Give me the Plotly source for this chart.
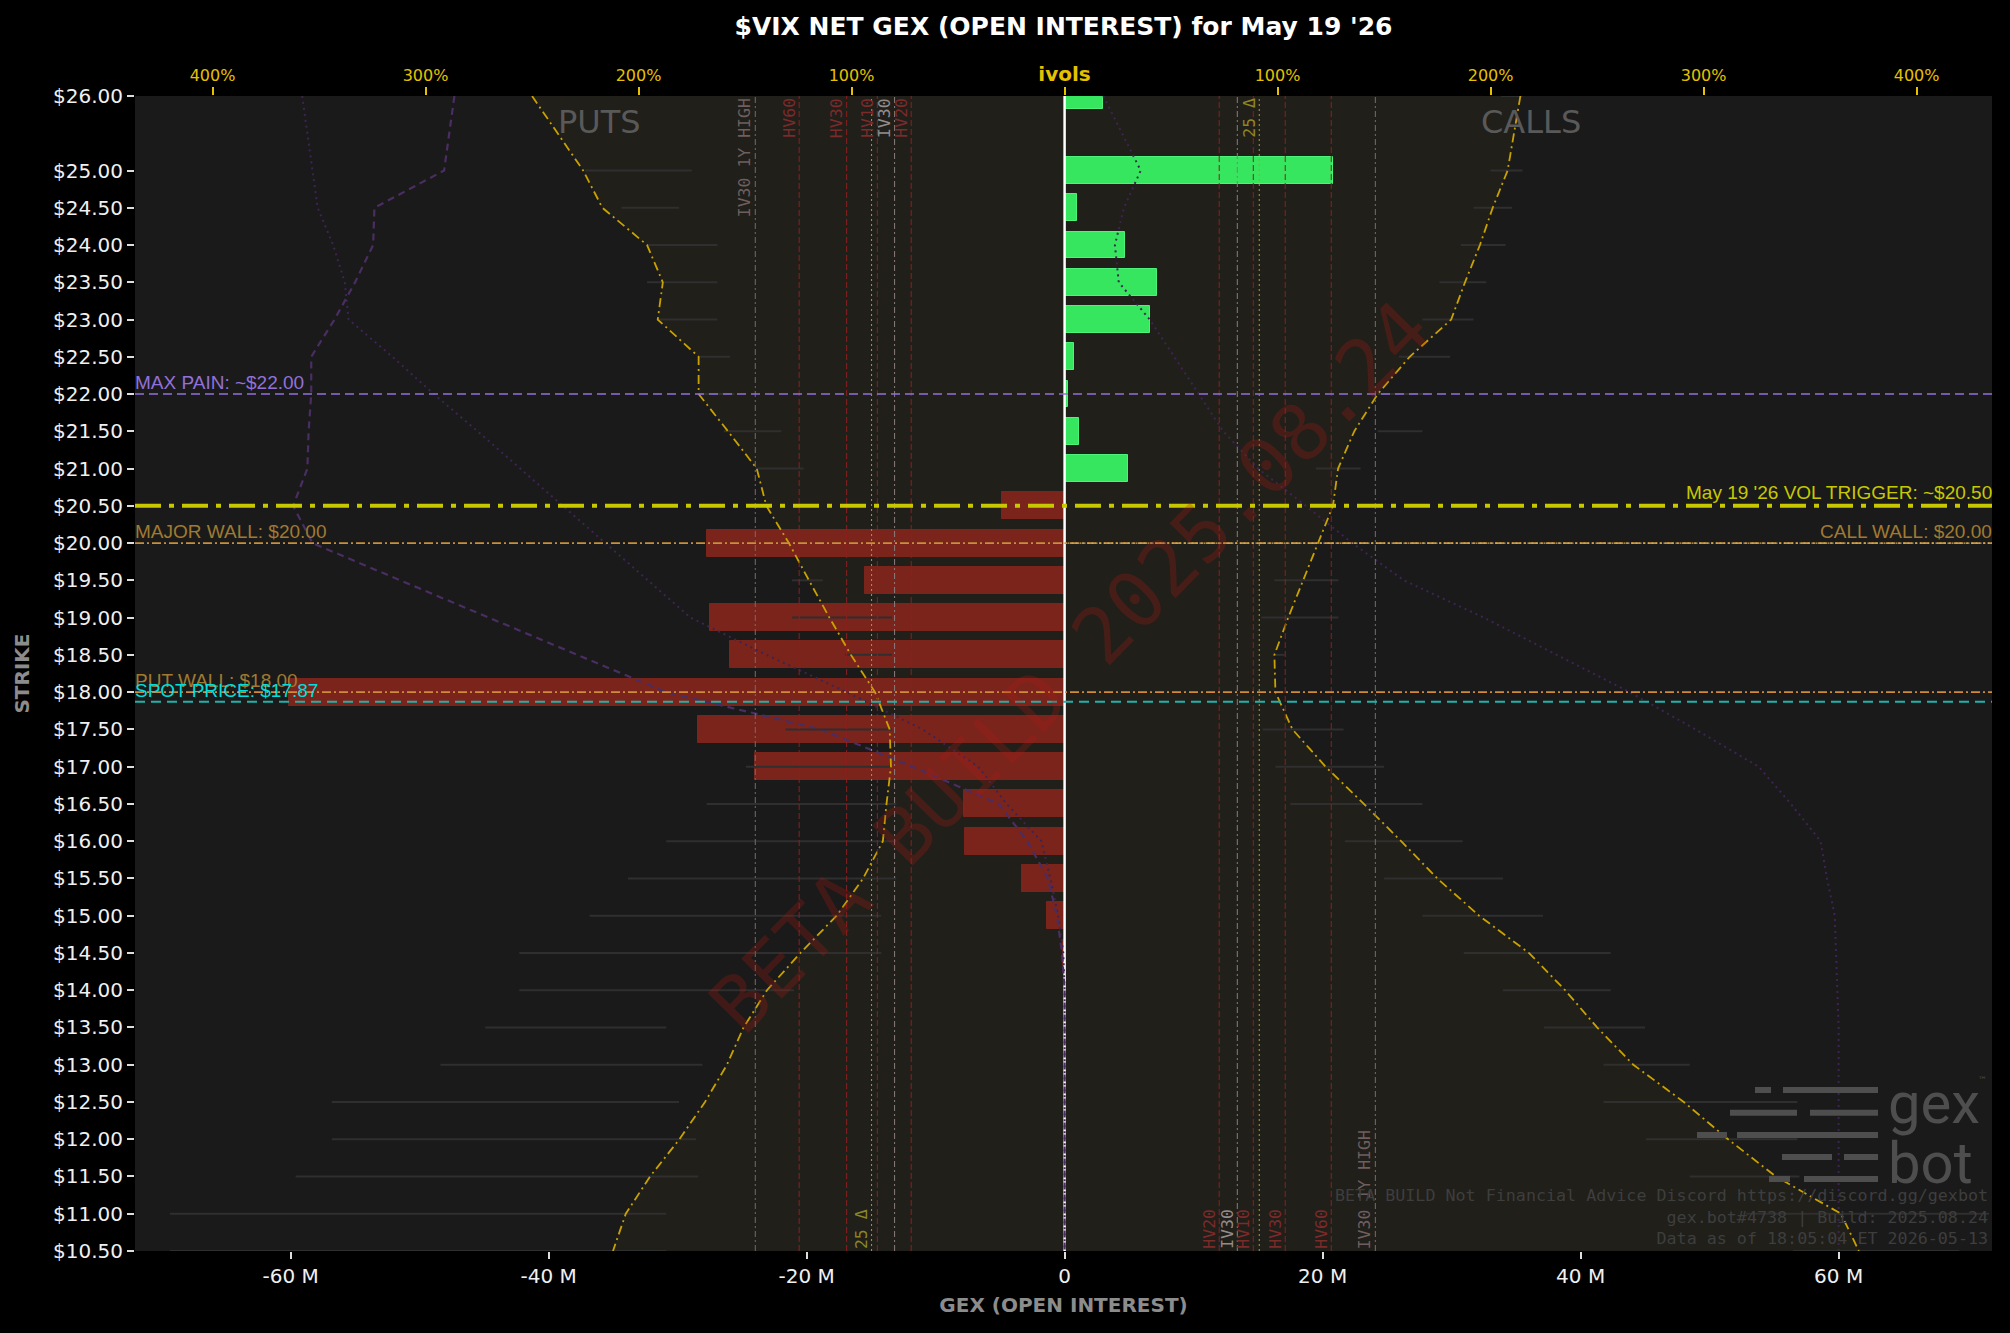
import plotly.graph_objects as go

# ---------------- data ----------------
strikes = [26.0, 25.0, 24.5, 24.0, 23.5, 23.0, 22.5, 22.0, 21.5, 21.0, 20.5,
           20.0, 19.5, 19.0, 18.5, 18.0, 17.5, 17.0, 16.5, 16.0, 15.5, 15.0,
           14.5, 14.0, 13.5, 13.0, 12.5, 12.0, 11.5, 11.0, 10.5]
net_gex_m = [3.0, 20.8, 0.95, 4.7, 7.2, 6.6, 0.75, 0.25, 1.1, 4.95, -4.85,
             -27.7, -15.5, -27.5, -25.9, -60.1, -28.4, -24.0, -7.8, -7.7, -3.3, -1.4,
             -0.15, 0, 0, 0, 0, 0, 0, 0, 0]
put_iv = [250, 226, 217, 196, 188.6, 191, 171.8, 171.8, 158, 144.5, 140,
          129.4, 120, 110.4, 100.3, 89, 82.1, 81.5, 83.6, 85.3, 94.6, 107,
          124, 139.7, 150.7, 158.5, 168.8, 180.8, 194.6, 206, 212]
call_iv = [214, 208, 201, 195, 188, 181.5, 162, 147, 136, 128.4, 126,
           119, 111.8, 105, 98.5, 99, 107, 122.5, 140.5, 158, 175, 194.6,
           218, 235, 250, 267, 290.7, 311.5, 333.9, 364.5, 372.9]
put_iv_lo = [None, 175, 181, 163, 163, 163, 157, 155, 133, 122.5, None,
             None, 113.5, 81, 81, None, 81, 81, 79, 79, 79, 86,
             86, 127, 187, 170, 181, 173, 172, 187, 187]
put_iv_hi = [None, 225, 208, 196, 196, 191, 172, 172, 160, 145, None,
             None, 128, 128, 103, None, 131, 149.6, 168, 187, 205, 223,
             256, 256, 272, 293, 344, 344, 361, 420, 420]
call_iv_lo = [205, 200, 192, 186, 176, 168, 157, 147, 147, 118, None,
              None, 98.5, 92.4, 98.5, 98.5, 93, 99, 106, 131.6, 150, 168,
              187.4, 205.8, 225, 253, 253, 273, 293.5, 320, 342]
call_iv_hi = [215, 215, 210, 207, 198, 192, 181, 171, 168, 139, None,
              None, 128.6, 128.6, 103.3, 104, 131, 150, 168, 186.9, 205.8, 224.6,
              256.4, 256.4, 272.5, 293.5, 344, 344, 345, 434, 420]
prior_put_dashed_m = [-47.3, -48.1, -53.5, -53.6, -55.0, -56.6, -58.4, -58.4, -58.6, -58.7, -59.8,
                      -58.3, -51.5, -44.6, -37.7, -30.9, -18.9, -11.8, -5.1, -2.9, -1.3, -0.6,
                      -0.2, 0, 0, 0, 0, 0, 0, 0, 0]
prior_put_dotted_m = [-59.1, -58.3, -57.9, -56.7, -55.8, -55.5, -52.1, -48.9, -45.5, -42.2, -38.9,
                      -35.6, -32.3, -29.0, -23.1, -16.9, -11.0, -6.7, -4.5, -1.8, -1.1, -0.5,
                      -0.1, 0, 0, 0, 0, 0, 0, 0, 0]
prior_call_dotted_m = [3.0, 5.9, 4.6, 3.9, 4.2, 6.6, 8.5, 10.4, 12.3, 15.0, 18.7,
                       22.3, 26.3, 32.5, 38.1, 43.8, 48.9, 53.8, 56.3, 58.6, 59.1, 59.7,
                       59.8, 59.9, 60.0, 60.0, 60.0, 60.0, 60.0, 60.0, 60.0]

vol_names = ["HV20", "IV30", "HV10", "HV30", "HV60", "IV30 1Y HIGH"]
vol_put_pct = [72.0, 79.8, 87.9, 102.3, 124.6, 145.2]
vol_call_pct = [72.6, 81.1, 88.6, 103.6, 125.2, 145.9]
delta25_put_pct = 90.6
delta25_call_pct = 91.4

max_pain = 22.00
vol_trigger = 20.50
major_wall = 20.00
call_wall = 20.00
put_wall = 18.00
spot_price = 17.87

gex_tick_vals = [-60, -40, -20, 0, 20, 40, 60]
gex_tick_text = ["-60 M", "-40 M", "-20 M", "0", "20 M", "40 M", "60 M"]
iv_tick_vals = [-400, -300, -200, -100, 0, 100, 200, 300, 400]
iv_tick_text = ["400%", "300%", "200%", "100%",
                "<span style='font-size:20px'><b>ivols</b></span>",
                "100%", "200%", "300%", "400%"]
strike_tick_text = ["$%.2f" % s for s in strikes]

# ---------------- styles ----------------
GEX_RANGE = [-72.06, 71.89]
IV_RANGE = [-436.4, 435.4]
GOLD = "#e5c100"
IV_CURVE = "#c9a200"
PURPLE_DARK = "#3d2452"

fig = go.Figure()

# fill between put / call IV curves (main ivols axis, drawn below bars)
fig.add_trace(go.Scatter(
    x=[-v for v in put_iv] + call_iv[::-1], y=strikes + strikes[::-1],
    mode="lines", fill="toself", fillcolor="rgba(60,55,30,0.2)",
    line=dict(width=0), hoverinfo="skip", xaxis="x", yaxis="y"))

# GEX bars
bar_colors = ["#36e65e" if v > 0 else "#7b241c" for v in net_gex_m]
bar_edges = ["#4cf27a" if v > 0 else "#7b241c" for v in net_gex_m]
fig.add_trace(go.Bar(
    y=strikes, x=net_gex_m, orientation="h", width=0.36,
    marker=dict(color=bar_colors, line=dict(color=bar_edges, width=1)),
    xaxis="x2", yaxis="y", hoverinfo="skip"))

# zero line
fig.add_trace(go.Scatter(x=[0, 0], y=[max(strikes), min(strikes)], mode="lines",
                         line=dict(color="#ffffff", width=2.5), xaxis="x2", yaxis="y",
                         hoverinfo="skip"))

# prior GEX curves (purple)
fig.add_trace(go.Scatter(x=prior_put_dotted_m, y=strikes, mode="lines",
                         line=dict(color=PURPLE_DARK, width=2, dash="2px,4px"),
                         xaxis="x2", yaxis="y", hoverinfo="skip"))
fig.add_trace(go.Scatter(x=prior_call_dotted_m, y=strikes, mode="lines",
                         line=dict(color=PURPLE_DARK, width=2, dash="2px,4px"),
                         xaxis="x2", yaxis="y", hoverinfo="skip"))
fig.add_trace(go.Scatter(x=prior_put_dashed_m, y=strikes, mode="lines",
                         line=dict(color="#4a2d62", width=2.2, dash="7px,5px"),
                         xaxis="x2", yaxis="y", hoverinfo="skip"))

# bid/ask IV segments
seg_x, seg_y = [], []
for s, lo, hi in zip(strikes, put_iv_lo, put_iv_hi):
    if lo is not None and hi is not None:
        seg_x += [-lo, -hi, None]
        seg_y += [s, s, None]
for s, lo, hi in zip(strikes, call_iv_lo, call_iv_hi):
    if lo is not None and hi is not None:
        seg_x += [lo, hi, None]
        seg_y += [s, s, None]
fig.add_trace(go.Scatter(x=seg_x, y=seg_y, mode="lines",
                         line=dict(color="#2f2f2f", width=2),
                         xaxis="x3", yaxis="y", hoverinfo="skip"))

# IV curves
fig.add_trace(go.Scatter(x=[-v for v in put_iv], y=strikes, mode="lines",
                         line=dict(color=IV_CURVE, width=1.8, dash="9px,4px,2px,4px"),
                         xaxis="x3", yaxis="y", hoverinfo="skip"))
fig.add_trace(go.Scatter(x=call_iv, y=strikes, mode="lines",
                         line=dict(color=IV_CURVE, width=1.8, dash="9px,4px,2px,4px"),
                         xaxis="x3", yaxis="y", hoverinfo="skip"))

shapes = []
annotations = []

# vertical vol-level lines
def vline_style(name):
    if name.startswith("IV30 1Y"):
        return "#7d6a6a", "6px,3px,2px,3px", "#6f5e5e"
    if name.startswith("IV"):
        return "#8a7d7d", "6px,3px,2px,3px", "#948c8c"
    return "#8e1f1f", "6px,3px", "#7c2a2a"

mono = "DejaVu Sans Mono"
for name, vp, vc in zip(vol_names, vol_put_pct, vol_call_pct):
    lc, dash, tc = vline_style(name)
    for xv, top in ((-vp, True), (vc, False)):
        shapes.append(dict(type="line", xref="x3", yref="paper", x0=xv, x1=xv, y0=0, y1=1,
                           line=dict(color=lc, width=1, dash=dash), layer="above"))
        annotations.append(dict(xref="x3", yref="paper", x=xv, y=1 if top else 0,
                                xanchor="right", yanchor="top" if top else "bottom",
                                text=name, textangle=-90, showarrow=False, xshift=1,
                                font=dict(family=mono, size=16.5, color=tc)))
for xv, top in ((-delta25_put_pct, False), (delta25_call_pct, True)):
    shapes.append(dict(type="line", xref="x3", yref="paper", x0=xv, x1=xv, y0=0, y1=1,
                       line=dict(color="#a8a220", width=1, dash="2px,3px"), layer="above"))
    annotations.append(dict(xref="x3", yref="paper", x=xv, y=1 if top else 0,
                            xanchor="right", yanchor="top" if top else "bottom",
                            text="25 Δ", textangle=-90, showarrow=False, xshift=1,
                            font=dict(family=mono, size=16.5, color="#8c8624")))

# horizontal reference lines
def hline(y, color, width, dash, x0=0, x1=1):
    shapes.append(dict(type="line", xref="paper", yref="y", x0=x0, x1=x1, y0=y, y1=y,
                       line=dict(color=color, width=width, dash=dash), layer="above"))

hline(max_pain, "#9370db", 1.6, "9px,5px")
hline(vol_trigger, "#c8c800", 4, "26px,8px,5px,8px")
hline(major_wall, "#c8903c", 1.6, "9px,3px,2px,3px")
hline(call_wall, "#d6ac55", 1.4, "2px,2px", x0=0.5, x1=1)
hline(put_wall, "#cf8a3a", 1.6, "9px,3px,2px,3px")
hline(spot_price, "#20b2aa", 2, "10px,6px")

lab = "Liberation Sans"
def hlabel(y, text, color, right=False, yshift=-1):
    annotations.append(dict(xref="paper", yref="y", x=1 if right else 0, y=y,
                            xanchor="right" if right else "left", yanchor="bottom",
                            text=text, showarrow=False, yshift=yshift, xshift=2 if right else -2,
                            font=dict(family=lab, size=19, color=color)))

hlabel(max_pain, "MAX PAIN: ~$%.2f" % max_pain, "#9370db")
hlabel(vol_trigger, "May 19 '26 VOL TRIGGER: ~$%.2f" % vol_trigger, "#c8c800", right=True, yshift=1)
hlabel(major_wall, "MAJOR WALL: $%.2f" % major_wall, "#a07a32")
hlabel(call_wall, "CALL WALL: $%.2f" % call_wall, "#a07a32", right=True)
hlabel(put_wall, "PUT WALL: $%.2f" % put_wall, "#a07a32")
hlabel(spot_price, "SPOT PRICE: $%.2f" % spot_price, "#00dede")

# PUTS / CALLS
for xp, t in ((0.25, "PUTS"), (0.752, "CALLS")):
    annotations.append(dict(xref="paper", yref="paper", x=xp, y=0.9775, xanchor="center",
                            yanchor="middle", text=t, showarrow=False,
                            font=dict(family="DejaVu Sans", size=32, color="#595959")))

# watermark
annotations.append(dict(xref="paper", yref="paper", x=0.5035, y=0.5056, xanchor="center",
                        yanchor="middle", text="BETA BUILD 2025.08.24", textangle=-45.5,
                        showarrow=False,
                        font=dict(family=mono, size=78, color="rgba(175,25,20,0.27)")))

# footer text
annotations.append(dict(xref="paper", yref="paper", x=0.9989, y=0.001, xanchor="right",
                        yanchor="bottom", align="right", showarrow=False,
                        text="BETA BUILD Not Financial Advice Discord https://discord.gg/gexbot<br>"
                             "gex.bot#4738 | Build: 2025.08.24<br>"
                             "Data as of 18:05:04 ET 2026-05-13",
                        font=dict(family=mono, size=16.7, color="#3e3e3e")))

# gex bot logo
def px2paper(X, Y):
    return (X - 135) / 1857.0, (1251 - Y) / 1155.0

LOGO_ROWS = [(1090, [(1755, 1771), (1783, 1878)]),
             (1112.7, [(1730, 1797), (1810, 1878)]),
             (1135, [(1697, 1727), (1737, 1878)]),
             (1157, [(1782, 1832), (1844, 1878)]),
             (1179, [(1769, 1790), (1804, 1878)])]
for Y, segs in LOGO_ROWS:
    for a, b in segs:
        x0, y0 = px2paper(a, Y + 3)
        x1, y1 = px2paper(b, Y - 3)
        shapes.append(dict(type="rect", xref="paper", yref="paper", x0=x0, x1=x1, y0=y0, y1=y1,
                           fillcolor="#4e4e4e", line=dict(width=0), layer="above"))
lx, ly = px2paper(1886, 1133)
annotations.append(dict(xref="paper", yref="paper", x=lx, y=ly, xanchor="left", yanchor="middle",
                        align="left", showarrow=False,
                        text="<span style='font-size:58px'>gex</span><br>"
                             "<span style='font-size:58px'>bot</span>",
                        font=dict(family="Roboto", size=46, color="#4e4e4e")))
tx, ty = px2paper(1982, 1080)
annotations.append(dict(xref="paper", yref="paper", x=tx, y=ty, xanchor="center", yanchor="middle",
                        text="™", showarrow=False, font=dict(family="DejaVu Sans", size=9, color="#4e4e4e")))

fig.update_layout(
    width=2010, height=1333,
    paper_bgcolor="#000000", plot_bgcolor="#1a1a1a",
    margin=dict(l=135, r=18, t=96, b=82),
    showlegend=False,
    bargap=0,
    title=dict(text="<b>$VIX NET GEX (OPEN INTEREST) for May 19 '26</b>",
               x=0.5, xref="paper", xanchor="center", y=1 - 26 / 1333, yref="container",
               yanchor="middle", font=dict(family="DejaVu Sans", size=25, color="#ffffff")),
    xaxis=dict(range=IV_RANGE, side="top", anchor="y", tickvals=iv_tick_vals, ticktext=iv_tick_text,
               ticks="outside", ticklen=8, tickwidth=2, tickcolor=GOLD,
               tickfont=dict(family="DejaVu Sans", size=16, color=GOLD),
               showgrid=False, zeroline=False, showline=False, fixedrange=True),
    xaxis2=dict(range=GEX_RANGE, overlaying="x", side="bottom", anchor="y",
                tickvals=gex_tick_vals, ticktext=gex_tick_text,
                ticks="outside", ticklen=7, tickwidth=2, tickcolor="#dddddd",
                tickfont=dict(family="DejaVu Sans", size=20, color="#f0f0f0"),
                title=dict(text="<b>GEX (OPEN INTEREST)</b>", standoff=10,
                           font=dict(family="DejaVu Sans", size=20, color="#8c8c8c")),
                showgrid=False, zeroline=False, showline=False),
    xaxis3=dict(range=IV_RANGE, overlaying="x", anchor="y", visible=False),
    yaxis=dict(range=[10.5, 26], tickvals=strikes, ticktext=strike_tick_text,
               ticks="outside", ticklen=7, tickwidth=2, tickcolor="#dddddd",
               tickfont=dict(family="DejaVu Sans", size=20, color="#f0f0f0"),
               title=dict(text="<b>STRIKE</b>", standoff=18,
                          font=dict(family="DejaVu Sans", size=20, color="#8c8c8c")),
               showgrid=False, zeroline=False, showline=False),
    shapes=shapes,
    annotations=annotations,
)

fig.write_html("out.html", config={"displayModeBar": False},
               post_script="document.body.style.margin='0';document.body.style.background='#000';")
